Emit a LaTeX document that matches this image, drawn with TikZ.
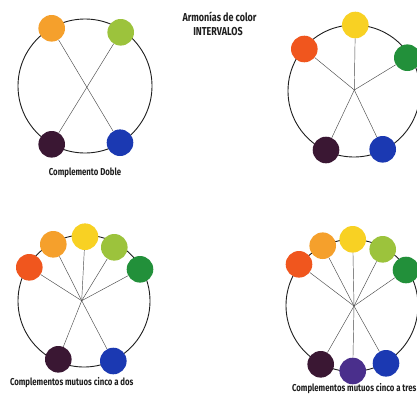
\documentclass[tikz,border=0pt]{standalone}
\usepackage{fontspec}
\setmainfont[FakeStretch=0.78]{Fira Sans Bold}
\definecolor{corange}{HTML}{F5A02C}
\definecolor{cyellow}{HTML}{F8D123}
\definecolor{clime}{HTML}{9CC33C}
\definecolor{cgreen}{HTML}{22903A}
\definecolor{cred}{HTML}{F0561E}
\definecolor{cplum}{HTML}{3A1733}
\definecolor{cblue}{HTML}{1B39B2}
\definecolor{cviolet}{HTML}{4A2F8C}
\definecolor{ink}{HTML}{1E1E1E}
\begin{document}
\begin{tikzpicture}[x=1pt,y=-1pt,
  ring/.style={draw=ink,line width=0.9pt},
  spoke/.style={draw=ink!80,line width=0.45pt},
  disc/.style={circle,minimum size=26.6pt,inner sep=0pt,fill=#1},
  caption/.style={font=\fontsize{10}{12}\selectfont,text=ink,inner sep=0pt},
  heading/.style={caption,font=\fontsize{11.5}{13}\selectfont}]
\useasboundingbox[fill=white] (0,0) rectangle (417,394);

% title
\node[heading] (title1) at (219.5,16.7) {Armonías de color};
\node[heading] (title2) at (218,31.4) {INTERVALOS};

% double complement
\draw[ring] (85,86) circle (67);
\node[disc=corange] (a1) at (51.7,28.3) {};
\node[disc=clime] (a2) at (120.7,32.3) {};
\node[disc=cplum] (a3) at (51.7,144.3) {};
\node[disc=cblue] (a4) at (120,142.7) {};
\draw[spoke] (a1) -- (a4);
\draw[spoke] (a2) -- (a3);
\node[caption] (capA) at (85,172.7) {Complemento Doble};

% five intervals
\draw[ring] (354,91) circle (66);
\coordinate (bc) at (354.3,90);
\node[disc=cyellow] (b1) at (355.3,25) {};
\node[disc=cred] (b2) at (304.3,49) {};
\node[disc=cgreen] (b3) at (407.3,57.7) {};
\node[disc=cplum] (b4) at (326,150) {};
\node[disc=cblue] (b5) at (382.7,149.3) {};
\foreach \n in {b1,b2,b3,b4,b5} \draw[spoke] (bc) -- (\n);

% five to two
\draw[ring] (84,301) circle (66);
\coordinate (cc) at (81.7,300.7);
\node[disc=cred] (c1) at (29.3,267.3) {};
\node[disc=corange] (c2) at (53.3,244.3) {};
\node[disc=cyellow] (c3) at (85,236.7) {};
\node[disc=clime] (c4) at (114.3,247.3) {};
\node[disc=cgreen] (c5) at (140,269.3) {};
\node[disc=cplum] (c6) at (58.3,359.3) {};
\node[disc=cblue] (c7) at (113.3,361) {};
\foreach \n in {c1,c2,c3,c4,c5,c6,c7} \draw[spoke] (cc) -- (\n);
\node[caption] (capC) at (71.7,382.7) {Complementos mutuos cinco a dos};

% five to three
\draw[ring] (352,305.5) circle (66);
\coordinate (dc) at (354,306);
\node[disc=cred] (d1) at (299,264.3) {};
\node[disc=corange] (d2) at (322.7,245.7) {};
\node[disc=cyellow] (d3) at (352.7,239.3) {};
\node[disc=clime] (d4) at (382.7,249.3) {};
\node[disc=cgreen] (d5) at (406,270) {};
\node[disc=cplum] (d6) at (320.7,364.3) {};
\node[disc=cviolet] (d7) at (352.7,371) {};
\node[disc=cblue] (d8) at (386,363.3) {};
\foreach \n in {d1,d2,d3,d4,d5,d6,d7,d8} \draw[spoke] (dc) -- (\n);
\node[caption] (capD) at (354.2,388.5) {Complementos mutuos cinco a tres};
\end{tikzpicture}
\end{document}
